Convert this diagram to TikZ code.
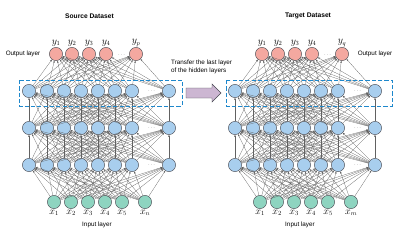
\documentclass[tikz,border=0pt]{standalone}
\usepackage{amsmath,amssymb}
\usepackage[no-math]{fontspec}
\newfontfamily\arialfont{Liberation Sans}
\usepackage{tikz}
\usetikzlibrary{positioning,calc}
\usetikzlibrary{arrows.meta}
\definecolor{OutPink}{RGB}{244,168,160}
\definecolor{HidBlue}{RGB}{168,206,238}
\definecolor{InTeal}{RGB}{142,212,192}
\definecolor{RimGray}{RGB}{70,72,80}
\definecolor{BoxBlue}{RGB}{30,136,204}
\definecolor{ArrLilac}{RGB}{204,182,210}
\tikzset{
  unit/.style={circle,draw=RimGray,line width=0.6pt,minimum size=0.66cm,inner sep=0pt},
  outn/.style={unit,fill=OutPink},
  hid/.style={unit,fill=HidBlue},
  inn/.style={unit,fill=InTeal},
  link/.style={draw=black!62,line width=0.35pt,-{Stealth[length=3.2pt,width=2.4pt]}},
  sym/.style={inner sep=1pt,font=\fontsize{13.5}{15}\selectfont},
  txt/.style={inner sep=0pt,font=\arialfont\fontsize{9}{11}\selectfont},
  ttl/.style={inner sep=0pt,font=\arialfont\bfseries\fontsize{9.5}{11}\selectfont},
  dots/.style={inner sep=0pt,text=black!60,font=\fontsize{8}{9}\selectfont},
  layerbox/.style={draw=BoxBlue,line width=1.4pt,dash pattern=on 6pt off 3pt},
}

\begin{document}
\begin{tikzpicture}[x=0.05cm,y=-0.05cm]
\useasboundingbox (0,0) rectangle (407,243);
% two networks, the second shifted to the right
\foreach \p/\dx/\xl/\yl in {s/0/n/p,t/206/m/q}{
\begin{scope}[shift={(\dx,0)}]
\foreach \x [count=\i] in {29,47,64,81,98,115,132,169}{
  \node[hid] (\p a\i) at (\x,91) {};
  \node[hid] (\p b\i) at (\x,128) {};
  \node[hid] (\p c\i) at (\x,165) {};
}
\foreach \x [count=\i] in {56,72,89,106,136}
  \node[outn] (\p o\i) at (\x,54) {};
\foreach \x [count=\i] in {54,71,88,105,122,145}
  \node[inn] (\p i\i) at (\x,202) {};
\node[dots] (\p od) at (122,55) {$\cdots$};
\node[dots] (\p ad) at (152,91) {$\cdots$};
\node[dots] (\p bd) at (152,128) {$\cdots$};
\node[dots] (\p cd) at (152,165) {$\cdots$};
\node[dots] (\p id) at (134,199) {$\cdots$};
% labels
\foreach \i in {1,...,4}
  \node[sym,above=0pt of \p o\i] (\p ol\i) {$y_{\i}$};
\node[sym,above=0pt of \p o5] (\p ol5) {$y_{\yl}$};
\foreach \i in {1,...,5}
  \node[sym,below=0pt of \p i\i] (\p il\i) {$x_{\i}$};
\node[sym,below=0pt of \p i6] (\p il6) {$x_{\xl}$};
% connections
\foreach \i in {1,...,8}{
  \foreach \j in {1,...,8}{
    \draw[link] (\p c\i) -- (\p b\j);
    \draw[link] (\p b\i) -- (\p a\j);
  }
  \foreach \j in {1,...,5}
    \draw[link] (\p a\i) -- (\p o\j);
}
\foreach \i in {1,...,6}
  \foreach \j in {1,...,8}
    \draw[link] (\p i\i) -- (\p c\j);
\end{scope}
}
% layer boxes
\draw[layerbox] (19,80) rectangle (182,106);
\draw[layerbox] (226,80) rectangle (392,106);
% titles and layer names
\node[ttl] (srcttl) at (89.5,16) {Source Dataset};
\node[ttl] (tgtttl) at (308,16) {Target Dataset};
\node[txt] (srcout) at (23,54) {Output layer};
\node[txt] (tgtout) at (375,54) {Output layer};
\node[txt] (srcin) at (97,225) {Input layer};
\node[txt] (tgtin) at (300,225) {Input layer};
% transfer arrow
\node[txt,anchor=west,align=left] (note) at (171,67) {Transfer the last layer\\of the hidden layers};
\draw[draw=RimGray,fill=ArrLilac,line width=0.6pt]
  (186,88) -- (212,88) -- (212,84) -- (221,93) -- (212,102) -- (212,98) -- (186,98) -- cycle;
\end{tikzpicture}
\end{document}
